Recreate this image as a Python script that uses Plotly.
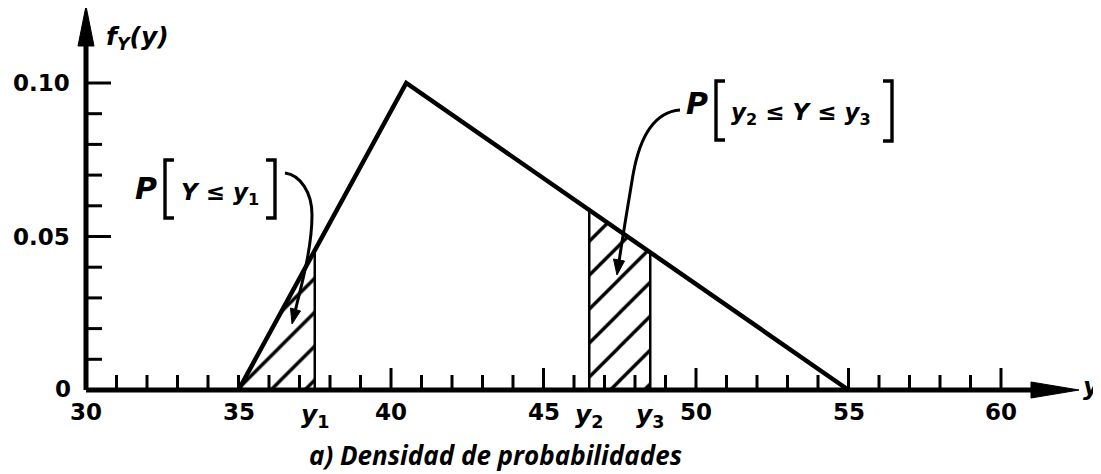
import numpy as np
import plotly.graph_objects as go

# ---------------- data ----------------
pdf_x = [35.0, 40.5, 55.0]          # triangular density support / mode
pdf_y = [0.0, 0.10, 0.0]
y1 = 37.5
y2 = 46.5
y3 = 48.5
x_tick_labels = [30, 35, 40, 45, 50, 55, 60]
x_minor_ticks = list(range(31, 61))
x_major_ticks = [40, 45, 50, 55, 60]
y_minor_ticks = [0.01, 0.02, 0.03, 0.04, 0.06, 0.07, 0.08, 0.09]
y_major_ticks = [0.05, 0.10]
y_tick_labels = ["0.05", "0.10"]

# ---------------- geometry helpers (layout only) ----------------
WIN_W, WIN_H = 1101, 474
OFF = 8                    # page body margin
W, H = WIN_W - OFF, WIN_H - OFF
PX0, PXS = 86.0, 30.5     # window pixel of x=30, pixels per unit
PY0, PYS = 390.0, 3070.0  # window pixel of y=0, pixels per unit


def X(px):
    return 30 + (px - PX0) / PXS


def Y(py):
    return (PY0 - py) / PYS


def f(x):
    return float(np.interp(x, pdf_x, pdf_y))


def path(points, close=False):
    s = "M " + " L ".join(f"{X(a)},{Y(b)}" for a, b in points)
    return s + (" Z" if close else "")


def cpath(start, segs):
    s = f"M {X(start[0])},{Y(start[1])}"
    for seg in segs:
        s += " C " + " ".join(f"{X(a)},{Y(b)}" for a, b in seg)
    return s


BLACK = "#000000"
SANS = "DejaVu Sans"
fig = go.Figure()

hatch = dict(shape="/", size=24, solidity=0.14, fgcolor=BLACK, bgcolor="white",
             fgopacity=1)

# hatched region P[Y <= y1]
fig.add_trace(go.Scatter(
    x=[pdf_x[0], y1, y1, pdf_x[0]], y=[0, f(y1), 0, 0],
    mode="lines", line=dict(width=0), fill="toself", fillcolor="white",
    fillpattern=hatch, hoverinfo="skip", showlegend=False))
# hatched region P[y2 <= Y <= y3]
fig.add_trace(go.Scatter(
    x=[y2, y2, y3, y3, y2], y=[0, f(y2), f(y3), 0, 0],
    mode="lines", line=dict(width=0), fill="toself", fillcolor="white",
    fillpattern=hatch, hoverinfo="skip", showlegend=False))

# vertical boundaries
vx, vy = [], []
for v in (y1, y2, y3):
    vx += [v, v, None]
    vy += [0, f(v), None]
fig.add_trace(go.Scatter(x=vx, y=vy, mode="lines",
                         line=dict(color=BLACK, width=2.5),
                         hoverinfo="skip", showlegend=False))

# density
fig.add_trace(go.Scatter(x=pdf_x, y=pdf_y, mode="lines",
                         line=dict(color=BLACK, width=4.5),
                         hoverinfo="skip", showlegend=False))

# ticks
tx, ty = [], []
for t in x_minor_ticks:
    ln = 22 if t in x_major_ticks else 15
    tx += [t, t, None]
    ty += [0, ln / PYS, None]
for t in y_minor_ticks + y_major_ticks:
    ln = 25 if t in y_major_ticks else 16
    tx += [30, 30 + ln / PXS, None]
    ty += [t, t, None]
fig.add_trace(go.Scatter(x=tx, y=ty, mode="lines",
                         line=dict(color=BLACK, width=3),
                         hoverinfo="skip", showlegend=False))

# axes
fig.add_trace(go.Scatter(x=[30, X(1040), None, 30, 30],
                         y=[0, 0, None, 0, Y(30)], mode="lines",
                         line=dict(color=BLACK, width=5),
                         hoverinfo="skip", showlegend=False))

shapes = []
# arrowheads
shapes.append(dict(type="path", path=path([(1079, 390), (1031, 382), (1031, 398)], True),
                   fillcolor=BLACK, line=dict(color=BLACK, width=1)))
shapes.append(dict(type="path", path=path([(86, 6), (78, 46), (94, 46)], True),
                   fillcolor=BLACK, line=dict(color=BLACK, width=1)))
# brackets
for pts in ([(174, 160), (165, 160), (165, 218), (174, 218)],
            [(266, 160), (275, 160), (275, 218), (266, 218)],
            [(725, 81), (716, 81), (716, 140), (725, 140)],
            [(883, 81), (892, 81), (892, 141), (883, 141)]):
    shapes.append(dict(type="path", path=path(pts), line=dict(color=BLACK, width=3.4)))
# leader curves
shapes.append(dict(type="path",
                   path=cpath((285, 173), [((300, 175), (312, 192), (312, 215)),
                                           ((312, 250), (300, 290), (295, 312))]),
                   line=dict(color=BLACK, width=3)))
shapes.append(dict(type="path", path=path([(292, 324), (300.5, 311), (290.5, 308)], True),
                   fillcolor=BLACK, line=dict(color=BLACK, width=1)))
shapes.append(dict(type="path",
                   path=cpath((680, 110), [((655, 112), (640, 135), (633, 175)),
                                           ((628, 205), (622, 240), (619, 262))]),
                   line=dict(color=BLACK, width=3)))
shapes.append(dict(type="path", path=path([(617, 275), (624.5, 261), (613.5, 259)], True),
                   fillcolor=BLACK, line=dict(color=BLACK, width=1)))

ann = []
tick_font = dict(family=SANS, size=23, color=BLACK, weight="bold")
for v in x_tick_labels:
    ann.append(dict(x=v, y=Y(412), text=str(v), showarrow=False,
                    xanchor="center", yanchor="middle", font=tick_font))
ann.append(dict(x=X(63), y=Y(389), text="0", showarrow=False,
                xanchor="center", yanchor="middle", font=tick_font))
for v, lab in zip(y_major_ticks, y_tick_labels):
    ann.append(dict(x=X(72), y=v, text=lab, showarrow=False,
                    xanchor="right", yanchor="middle", font=tick_font))

ital = dict(family=SANS, size=25, color=BLACK, weight="bold")
for v, s in ((y1, "1"), (y2, "2"), (y3, "3")):
    ann.append(dict(x=v, y=Y(416), text=f"<i>y</i><sub>{s}</sub>", showarrow=False,
                    xanchor="center", yanchor="middle", font=ital))
ann.append(dict(x=X(1081), y=Y(386), text="<i>y</i>", showarrow=False,
                xanchor="left", yanchor="middle", font=ital))
ann.append(dict(x=X(104), y=Y(38), text="<i>f</i><sub><i>Y</i></sub><i>(y)</i>",
                showarrow=False, xanchor="left", yanchor="middle", font=ital))

# probability labels
pfont = dict(family=SANS, size=30, color=BLACK, weight="bold")
inner_font = dict(family=SANS, size=23, color=BLACK, weight="bold")
ann.append(dict(x=X(146), y=Y(188), text="<i>P</i>", showarrow=False,
                xanchor="center", yanchor="middle", font=pfont))
ann.append(dict(x=X(220), y=Y(194), text="<i>Y</i> ≤ <i>y</i><sub>1</sub>", showarrow=False,
                xanchor="center", yanchor="middle", font=inner_font))
ann.append(dict(x=X(697), y=Y(103), text="<i>P</i>", showarrow=False,
                xanchor="center", yanchor="middle", font=pfont))
ann.append(dict(x=X(801), y=Y(114), text="<i>y</i><sub>2</sub> ≤ <i>Y</i> ≤ <i>y</i><sub>3</sub>",
                showarrow=False, xanchor="center", yanchor="middle", font=inner_font))

# caption
ann.append(dict(x=X(495), y=Y(455), text="<i>a) Densidad de probabilidades</i>",
                showarrow=False, xanchor="center", yanchor="middle", borderpad=0,
                font=dict(family="Open Sans", size=26, color=BLACK, weight="bold")))

fig.update_layout(
    width=W, height=H, autosize=False,
    margin=dict(l=0, r=0, t=0, b=0),
    paper_bgcolor="white", plot_bgcolor="white",
    xaxis=dict(visible=False, range=[X(OFF), X(WIN_W)], fixedrange=True),
    yaxis=dict(visible=False, range=[Y(WIN_H), Y(OFF)], fixedrange=True),
    shapes=shapes, annotations=ann, showlegend=False,
)

fig.write_html("out.html")
